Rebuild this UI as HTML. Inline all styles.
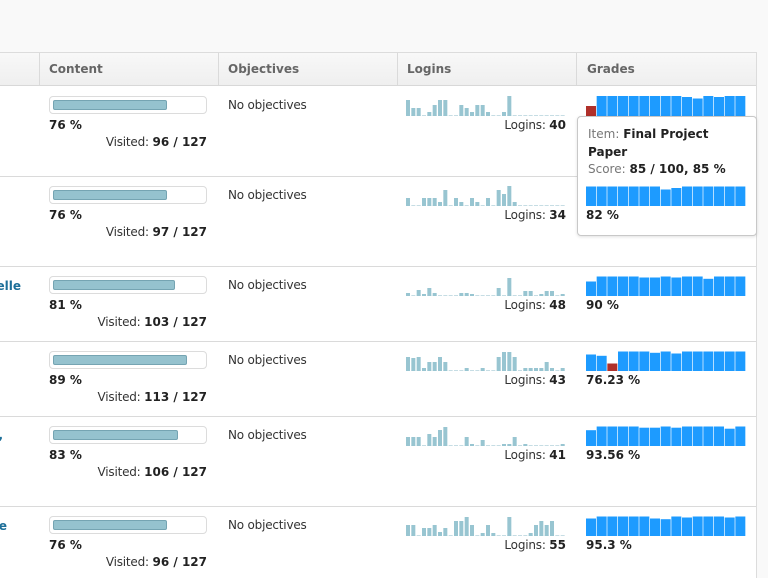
<!DOCTYPE html>
<html>
<head>
<meta charset="utf-8">
<style>
  html,body{margin:0;padding:0;width:768px;height:578px;overflow:hidden;}
  body{position:relative;background:#f9f9f9;font-family:"DejaVu Sans","Liberation Sans",sans-serif;font-size:12px;color:#333;}
  .tbl{position:absolute;left:0;top:52px;width:756px;height:526px;background:#fff;border-top:1px solid #dcdcdc;border-right:1px solid #dcdcdc;}
  .hdr{position:absolute;left:0;top:53px;width:756px;height:32px;background:linear-gradient(#f8f8f8,#efefef);border-bottom:1px solid #d8d8d8;}
  .vs{position:absolute;top:53px;width:1px;height:32px;background:#dadada;}
  .hl{position:absolute;left:0;width:756px;height:1px;background:#dadada;}
  .t{position:absolute;line-height:14px;white-space:nowrap;margin-top:1px;}
  .h{font-weight:bold;color:#666;top:61px;}
  .rg{letter-spacing:-0.2px;color:#333;}
  b{color:#222;letter-spacing:0;}
  .box{position:absolute;left:49px;width:158px;height:18px;box-sizing:border-box;border:1px solid #dcdcdc;border-radius:4px;background:#fff;}
  .fill{position:absolute;left:53px;height:10px;box-sizing:border-box;border:1px solid #75a4b2;border-radius:2px;background:#95c2ce;}
  .pct{left:49px;font-weight:bold;color:#222;}
  .vis{right:561px;}
  .obj{left:228px;}
  .lg{right:202px;}
  .gr{left:586px;font-weight:bold;color:#222;}
  .nm{font-weight:bold;color:#1d6f99;}
  svg{position:absolute;overflow:visible;}
  .sp rect{fill:#98c5d1;}
  .gb rect{fill:#1d9bff;}
  .gb rect.r{fill:#b0302a;}
  .tip{position:absolute;left:577px;top:116px;width:180px;height:120px;box-sizing:border-box;border:1px solid #c8c8c8;border-radius:4px;background:#fff;box-shadow:0 1px 3px rgba(0,0,0,0.12);}
  .tt{position:absolute;left:588px;line-height:17.5px;white-space:nowrap;font-size:12px;color:#333;}
  .tt span{color:#777;}
</style>
</head>
<body>
<div class="tbl"></div>
<div class="hdr"></div>
<div class="vs" style="left:39px"></div>
<div class="vs" style="left:218px"></div>
<div class="vs" style="left:397px"></div>
<div class="vs" style="left:576px"></div>
<div class="t h" style="left:49px">Content</div>
<div class="t h" style="left:228px">Objectives</div>
<div class="t h" style="left:407px">Logins</div>
<div class="t h" style="left:587px">Grades</div>

<div class="hl" style="top:176px"></div>
<div class="hl" style="top:266px"></div>
<div class="hl" style="top:341px"></div>
<div class="hl" style="top:416px"></div>
<div class="hl" style="top:506px"></div>

<!-- names (clipped) -->
<div class="t nm" style="right:747px;top:278px">elle</div>
<div class="t nm" style="right:765px;top:427px">,</div>
<div class="t nm" style="right:761px;top:518px">e</div>

<!-- Row 1 -->
<div class="box" style="top:96px"></div>
<div class="fill" style="top:100px;width:114px"></div>
<div class="t pct" style="top:117px">76 %</div>
<div class="t vis rg" style="top:134px">Visited: <b>96 / 127</b></div>
<div class="t obj rg" style="top:97px">No objectives</div>
<svg class="sp" style="left:406px;top:86px" width="160" height="30" viewBox="0 0 480 30" preserveAspectRatio="none">
<line x1="0" y1="29.5" x2="480" y2="29.5" stroke="#c6dde4" stroke-width="1" stroke-dasharray="12 4"/>
<rect x="0" y="14" width="12" height="16"/><rect x="16" y="22" width="12" height="8"/><rect x="32" y="22" width="12" height="8"/><rect x="64" y="26" width="12" height="4"/><rect x="80" y="19" width="12" height="11"/><rect x="96" y="14" width="12" height="16"/><rect x="112" y="14" width="12" height="16"/><rect x="160" y="19" width="12" height="11"/><rect x="176" y="22" width="12" height="8"/><rect x="192" y="26" width="12" height="4"/><rect x="208" y="19" width="12" height="11"/><rect x="224" y="19" width="12" height="11"/><rect x="240" y="26" width="12" height="4"/><rect x="288" y="26" width="12" height="4"/><rect x="304" y="10" width="12" height="20"/>
</svg>
<div class="t lg rg" style="top:117px">Logins: <b>40</b></div>
<svg class="gb" style="left:586px;top:86px" width="160" height="30" viewBox="0 0 480 30" preserveAspectRatio="none">
<rect class="r" x="0" y="20" width="30" height="10"/><rect x="32" y="10" width="30" height="20"/><rect x="64" y="10" width="30" height="20"/><rect x="96" y="10" width="30" height="20"/><rect x="128" y="10" width="30" height="20"/><rect x="160" y="10" width="30" height="20"/><rect x="192" y="10" width="30" height="20"/><rect x="224" y="10" width="30" height="20"/><rect x="256" y="10" width="30" height="20"/><rect x="288" y="11" width="30" height="19"/><rect x="320" y="12.5" width="30" height="17.5"/><rect x="352" y="10" width="30" height="20"/><rect x="384" y="11" width="30" height="19"/><rect x="416" y="10" width="30" height="20"/><rect x="448" y="10" width="30" height="20"/>
</svg>

<!-- Tooltip -->
<div class="tip"></div>
<div class="tt" style="top:126px"><span>Item: </span><b>Final Project</b></div>
<div class="tt" style="top:143.5px"><b>Paper</b></div>
<div class="tt" style="top:161px"><span>Score: </span><b>85 / 100, 85 %</b></div>

<!-- Row 2 -->
<div class="box" style="top:186px"></div>
<div class="fill" style="top:190px;width:114px"></div>
<div class="t pct" style="top:207px">76 %</div>
<div class="t vis rg" style="top:224px">Visited: <b>97 / 127</b></div>
<div class="t obj rg" style="top:187px">No objectives</div>
<svg class="sp" style="left:406px;top:176px" width="160" height="30" viewBox="0 0 480 30" preserveAspectRatio="none">
<line x1="0" y1="29.5" x2="480" y2="29.5" stroke="#c6dde4" stroke-width="1" stroke-dasharray="12 4"/>
<rect x="0" y="22" width="12" height="8"/><rect x="48" y="22" width="12" height="8"/><rect x="64" y="22" width="12" height="8"/><rect x="80" y="22" width="12" height="8"/><rect x="96" y="26" width="12" height="4"/><rect x="112" y="14" width="12" height="16"/><rect x="144" y="22" width="12" height="8"/><rect x="160" y="26" width="12" height="4"/><rect x="192" y="22" width="12" height="8"/><rect x="208" y="26" width="12" height="4"/><rect x="240" y="22" width="12" height="8"/><rect x="272" y="14" width="12" height="16"/><rect x="288" y="18" width="12" height="12"/><rect x="304" y="10" width="12" height="20"/><rect x="320" y="26" width="12" height="4"/>
</svg>
<div class="t lg rg" style="top:207px">Logins: <b>34</b></div>
<svg class="gb" style="left:586px;top:176px" width="160" height="30" viewBox="0 0 480 30" preserveAspectRatio="none">
<rect x="0" y="10.5" width="30" height="19.5"/><rect x="32" y="10.5" width="30" height="19.5"/><rect x="64" y="10.5" width="30" height="19.5"/><rect x="96" y="10.5" width="30" height="19.5"/><rect x="128" y="10.5" width="30" height="19.5"/><rect x="160" y="10.5" width="30" height="19.5"/><rect x="192" y="10.5" width="30" height="19.5"/><rect x="224" y="13.5" width="30" height="16.5"/><rect x="256" y="12" width="30" height="18"/><rect x="288" y="10.5" width="30" height="19.5"/><rect x="320" y="10.5" width="30" height="19.5"/><rect x="352" y="10.5" width="30" height="19.5"/><rect x="384" y="10.5" width="30" height="19.5"/><rect x="416" y="10.5" width="30" height="19.5"/><rect x="448" y="10.5" width="30" height="19.5"/>
</svg>
<div class="t gr" style="top:207px">82 %</div>

<!-- Row 3 -->
<div class="box" style="top:276px"></div>
<div class="fill" style="top:280px;width:122px"></div>
<div class="t pct" style="top:297px">81 %</div>
<div class="t vis rg" style="top:314px">Visited: <b>103 / 127</b></div>
<div class="t obj rg" style="top:277px">No objectives</div>
<svg class="sp" style="left:406px;top:266px" width="160" height="30" viewBox="0 0 480 30" preserveAspectRatio="none">
<line x1="0" y1="29.5" x2="480" y2="29.5" stroke="#c6dde4" stroke-width="1" stroke-dasharray="12 4"/>
<rect x="0" y="27" width="12" height="3"/><rect x="32" y="24" width="12" height="6"/><rect x="48" y="28" width="12" height="2"/><rect x="64" y="22" width="12" height="8"/><rect x="80" y="27" width="12" height="3"/><rect x="160" y="27" width="12" height="3"/><rect x="176" y="27" width="12" height="3"/><rect x="192" y="28" width="12" height="2"/><rect x="272" y="22" width="12" height="8"/><rect x="304" y="12" width="12" height="18"/><rect x="352" y="25" width="12" height="5"/><rect x="368" y="25" width="12" height="5"/><rect x="400" y="28" width="12" height="2"/><rect x="416" y="25" width="12" height="5"/><rect x="432" y="25" width="12" height="5"/><rect x="464" y="28" width="12" height="2"/>
</svg>
<div class="t lg rg" style="top:297px">Logins: <b>48</b></div>
<svg class="gb" style="left:586px;top:266px" width="160" height="30" viewBox="0 0 480 30" preserveAspectRatio="none">
<rect x="0" y="15.5" width="30" height="14.5"/><rect x="32" y="10.5" width="30" height="19.5"/><rect x="64" y="10.5" width="30" height="19.5"/><rect x="96" y="10.5" width="30" height="19.5"/><rect x="128" y="10.5" width="30" height="19.5"/><rect x="160" y="11.5" width="30" height="18.5"/><rect x="192" y="11.5" width="30" height="18.5"/><rect x="224" y="10.5" width="30" height="19.5"/><rect x="256" y="11.5" width="30" height="18.5"/><rect x="288" y="10.5" width="30" height="19.5"/><rect x="320" y="10.5" width="30" height="19.5"/><rect x="352" y="12.8" width="30" height="17.2"/><rect x="384" y="10.5" width="30" height="19.5"/><rect x="416" y="10.5" width="30" height="19.5"/><rect x="448" y="10.5" width="30" height="19.5"/>
</svg>
<div class="t gr" style="top:297px">90 %</div>

<!-- Row 4 -->
<div class="box" style="top:351px"></div>
<div class="fill" style="top:355px;width:134px"></div>
<div class="t pct" style="top:372px">89 %</div>
<div class="t vis rg" style="top:389px">Visited: <b>113 / 127</b></div>
<div class="t obj rg" style="top:352px">No objectives</div>
<svg class="sp" style="left:406px;top:341px" width="160" height="30" viewBox="0 0 480 30" preserveAspectRatio="none">
<line x1="0" y1="29.5" x2="480" y2="29.5" stroke="#c6dde4" stroke-width="1" stroke-dasharray="12 4"/>
<rect x="0" y="16" width="12" height="14"/><rect x="16" y="17" width="12" height="13"/><rect x="32" y="16" width="12" height="14"/><rect x="48" y="27" width="12" height="3"/><rect x="64" y="21" width="12" height="9"/><rect x="80" y="21" width="12" height="9"/><rect x="96" y="16" width="12" height="14"/><rect x="112" y="21" width="12" height="9"/><rect x="176" y="27" width="12" height="3"/><rect x="224" y="27" width="12" height="3"/><rect x="272" y="16" width="12" height="14"/><rect x="288" y="11" width="12" height="19"/><rect x="304" y="11" width="12" height="19"/><rect x="320" y="16" width="12" height="14"/><rect x="352" y="27" width="12" height="3"/><rect x="368" y="27" width="12" height="3"/><rect x="384" y="27" width="12" height="3"/><rect x="400" y="27" width="12" height="3"/><rect x="416" y="21" width="12" height="9"/><rect x="432" y="27" width="12" height="3"/><rect x="464" y="27" width="12" height="3"/>
</svg>
<div class="t lg rg" style="top:372px">Logins: <b>43</b></div>
<svg class="gb" style="left:586px;top:341px" width="160" height="30" viewBox="0 0 480 30" preserveAspectRatio="none">
<rect x="0" y="13.5" width="30" height="16.5"/><rect x="32" y="14.8" width="30" height="15.2"/><rect class="r" x="64" y="22.5" width="30" height="7.5"/><rect x="96" y="10.5" width="30" height="19.5"/><rect x="128" y="10.5" width="30" height="19.5"/><rect x="160" y="10.5" width="30" height="19.5"/><rect x="192" y="11.8" width="30" height="18.2"/><rect x="224" y="10.5" width="30" height="19.5"/><rect x="256" y="12.5" width="30" height="17.5"/><rect x="288" y="10.5" width="30" height="19.5"/><rect x="320" y="10.5" width="30" height="19.5"/><rect x="352" y="10.5" width="30" height="19.5"/><rect x="384" y="10.5" width="30" height="19.5"/><rect x="416" y="10.5" width="30" height="19.5"/><rect x="448" y="10.5" width="30" height="19.5"/>
</svg>
<div class="t gr" style="top:372px">76.23 %</div>

<!-- Row 5 -->
<div class="box" style="top:426px"></div>
<div class="fill" style="top:430px;width:125px"></div>
<div class="t pct" style="top:447px">83 %</div>
<div class="t vis rg" style="top:464px">Visited: <b>106 / 127</b></div>
<div class="t obj rg" style="top:427px">No objectives</div>
<svg class="sp" style="left:406px;top:416px" width="160" height="30" viewBox="0 0 480 30" preserveAspectRatio="none">
<line x1="0" y1="29.5" x2="480" y2="29.5" stroke="#c6dde4" stroke-width="1" stroke-dasharray="12 4"/>
<rect x="0" y="21" width="12" height="9"/><rect x="16" y="21" width="12" height="9"/><rect x="32" y="21" width="12" height="9"/><rect x="64" y="18" width="12" height="12"/><rect x="80" y="21" width="12" height="9"/><rect x="96" y="14" width="12" height="16"/><rect x="112" y="11" width="12" height="19"/><rect x="176" y="21" width="12" height="9"/><rect x="192" y="28" width="12" height="2"/><rect x="224" y="24" width="12" height="6"/><rect x="288" y="28" width="12" height="2"/><rect x="304" y="28" width="12" height="2"/><rect x="320" y="21" width="12" height="9"/><rect x="352" y="28" width="12" height="2"/><rect x="464" y="28" width="12" height="2"/>
</svg>
<div class="t lg rg" style="top:447px">Logins: <b>41</b></div>
<svg class="gb" style="left:586px;top:416px" width="160" height="30" viewBox="0 0 480 30" preserveAspectRatio="none">
<rect x="0" y="14.2" width="30" height="15.8"/><rect x="32" y="10.5" width="30" height="19.5"/><rect x="64" y="10.5" width="30" height="19.5"/><rect x="96" y="10.5" width="30" height="19.5"/><rect x="128" y="10.5" width="30" height="19.5"/><rect x="160" y="11.7" width="30" height="18.3"/><rect x="192" y="11.7" width="30" height="18.3"/><rect x="224" y="10.5" width="30" height="19.5"/><rect x="256" y="11.7" width="30" height="18.3"/><rect x="288" y="10.5" width="30" height="19.5"/><rect x="320" y="10.5" width="30" height="19.5"/><rect x="352" y="10.5" width="30" height="19.5"/><rect x="384" y="10.5" width="30" height="19.5"/><rect x="416" y="12.7" width="30" height="17.3"/><rect x="448" y="10.5" width="30" height="19.5"/>
</svg>
<div class="t gr" style="top:447px">93.56 %</div>

<!-- Row 6 -->
<div class="box" style="top:516px"></div>
<div class="fill" style="top:520px;width:114px"></div>
<div class="t pct" style="top:537px">76 %</div>
<div class="t vis rg" style="top:554px">Visited: <b>96 / 127</b></div>
<div class="t obj rg" style="top:517px">No objectives</div>
<svg class="sp" style="left:406px;top:506px" width="160" height="30" viewBox="0 0 480 30" preserveAspectRatio="none">
<line x1="0" y1="29.5" x2="480" y2="29.5" stroke="#c6dde4" stroke-width="1" stroke-dasharray="12 4"/>
<rect x="0" y="19" width="12" height="11"/><rect x="16" y="19" width="12" height="11"/><rect x="48" y="22" width="12" height="8"/><rect x="64" y="22" width="12" height="8"/><rect x="80" y="19" width="12" height="11"/><rect x="96" y="26" width="12" height="4"/><rect x="112" y="22" width="12" height="8"/><rect x="144" y="15" width="12" height="15"/><rect x="160" y="15" width="12" height="15"/><rect x="176" y="11" width="12" height="19"/><rect x="192" y="19" width="12" height="11"/><rect x="224" y="27" width="12" height="3"/><rect x="240" y="19" width="12" height="11"/><rect x="256" y="27" width="12" height="3"/><rect x="304" y="11" width="12" height="19"/><rect x="368" y="27" width="12" height="3"/><rect x="384" y="19" width="12" height="11"/><rect x="400" y="15" width="12" height="15"/><rect x="416" y="19" width="12" height="11"/><rect x="432" y="15" width="12" height="15"/>
</svg>
<div class="t lg rg" style="top:537px">Logins: <b>55</b></div>
<svg class="gb" style="left:586px;top:506px" width="160" height="30" viewBox="0 0 480 30" preserveAspectRatio="none">
<rect x="0" y="12.5" width="30" height="17.5"/><rect x="32" y="10.5" width="30" height="19.5"/><rect x="64" y="10.5" width="30" height="19.5"/><rect x="96" y="10.5" width="30" height="19.5"/><rect x="128" y="10.5" width="30" height="19.5"/><rect x="160" y="10.5" width="30" height="19.5"/><rect x="192" y="12.5" width="30" height="17.5"/><rect x="224" y="13.2" width="30" height="16.8"/><rect x="256" y="10.5" width="30" height="19.5"/><rect x="288" y="11.5" width="30" height="18.5"/><rect x="320" y="10.5" width="30" height="19.5"/><rect x="352" y="10.5" width="30" height="19.5"/><rect x="384" y="10.5" width="30" height="19.5"/><rect x="416" y="11.5" width="30" height="18.5"/><rect x="448" y="10.5" width="30" height="19.5"/>
</svg>
<div class="t gr" style="top:537px">95.3 %</div>
</body>
</html>
